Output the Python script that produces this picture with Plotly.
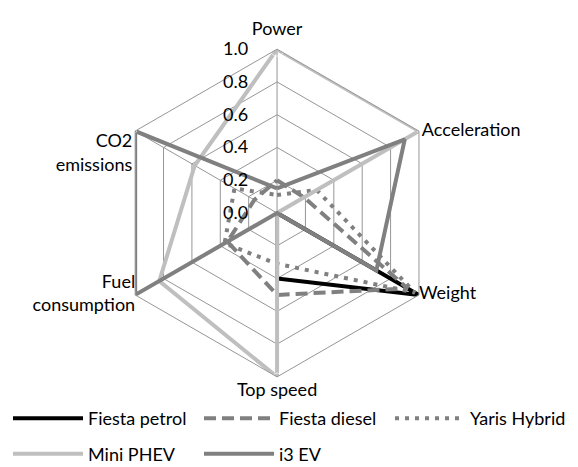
import plotly.graph_objects as go

categories = ["Power", "Acceleration", "Weight", "Top speed", "Fuel<br>consumption", "CO2<br>emissions"]

fiesta_petrol = [0.0, 0.0, 1.0, 0.40, 0.0, 0.0]
fiesta_diesel = [0.20, 0.19, 0.92, 0.50, 0.35, 0.16]
yaris_hybrid = [0.11, 0.28, 0.97, 0.31, 0.37, 0.30]
mini_phev = [1.0, 1.0, 0.0, 1.0, 0.83, 0.58]
i3_ev = [0.15, 0.90, 0.70, 0.0, 1.0, 1.0]

radial_ticks = [0.0, 0.2, 0.4, 0.6, 0.8, 1.0]

font_name = "Lato"
font_size = 18
grid_color = "rgb(150,150,150)"

# where each category name sits relative to its spoke end, and how far off
label_pos = ["top center", "middle right", "middle right", "bottom center", "middle left", "bottom left"]
label_gap = [14, 3, 0, 8, 0, 3]


def closed(values):
    # repeat the first point so the polygon closes
    return values + values[:1]


fig = go.Figure()

series = [
    ("Fiesta petrol", fiesta_petrol, "rgb(0,0,0)", "solid", "legend"),
    ("Fiesta diesel", fiesta_diesel, "rgb(128,128,128)", "12px,6px", "legend"),
    ("Yaris Hybrid", yaris_hybrid, "rgb(128,128,128)", "4px,6px", "legend"),
    ("Mini PHEV", mini_phev, "rgb(191,191,191)", "solid", "legend2"),
    ("i3 EV", i3_ev, "rgb(128,128,128)", "solid", "legend2"),
]

for name, vals, col, dash, leg in series:
    fig.add_trace(
        go.Scatterpolar(
            r=closed(vals),
            theta=closed(categories),
            name=name,
            mode="lines",
            line=dict(color=col, width=4, dash=dash),
            legend=leg,
        )
    )

# category names at the outer ring (invisible markers only push the text out)
fig.add_trace(
    go.Scatterpolar(
        r=[max(radial_ticks)] * len(categories),
        theta=categories,
        text=categories,
        mode="markers+text",
        marker=dict(size=label_gap, color="rgba(0,0,0,0)"),
        textposition=label_pos,
        textfont=dict(family=font_name, size=font_size, color="black"),
        cliponaxis=False,
        showlegend=False,
        hoverinfo="skip",
    )
)

legend_style = dict(
    orientation="h",
    x=0.0,
    xanchor="left",
    yanchor="middle",
    itemwidth=70,
    entrywidth=106,
    bgcolor="rgba(0,0,0,0)",
    font=dict(size=font_size),
)

fig.update_layout(
    width=578,
    height=467,
    autosize=False,
    paper_bgcolor="white",
    plot_bgcolor="white",
    margin=dict(l=0, r=0, t=0, b=0, autoexpand=False),
    font=dict(family=font_name, size=font_size, color="black"),
    polar=dict(
        domain=dict(x=[0.182, 0.749], y=[0.21, 0.912]),
        gridshape="linear",
        bgcolor="white",
        radialaxis=dict(
            range=[0, 1],
            tickvals=radial_ticks,
            tickformat=".1f",
            angle=90,
            tickangle=90,
            side="counterclockwise",
            showline=False,
            showgrid=True,
            gridcolor=grid_color,
            gridwidth=1,
            ticks="outside",
            ticklen=22,
            tickcolor="rgba(0,0,0,0)",
            tickfont=dict(size=font_size),
        ),
        angularaxis=dict(
            direction="clockwise",
            rotation=90,
            showline=True,
            linecolor=grid_color,
            linewidth=1,
            showgrid=True,
            gridcolor=grid_color,
            gridwidth=1,
            ticks="",
            showticklabels=False,
        ),
    ),
    legend=dict(legend_style, y=0.121),
    legend2=dict(legend_style, y=0.045),
)

fig.write_html("out.html")
